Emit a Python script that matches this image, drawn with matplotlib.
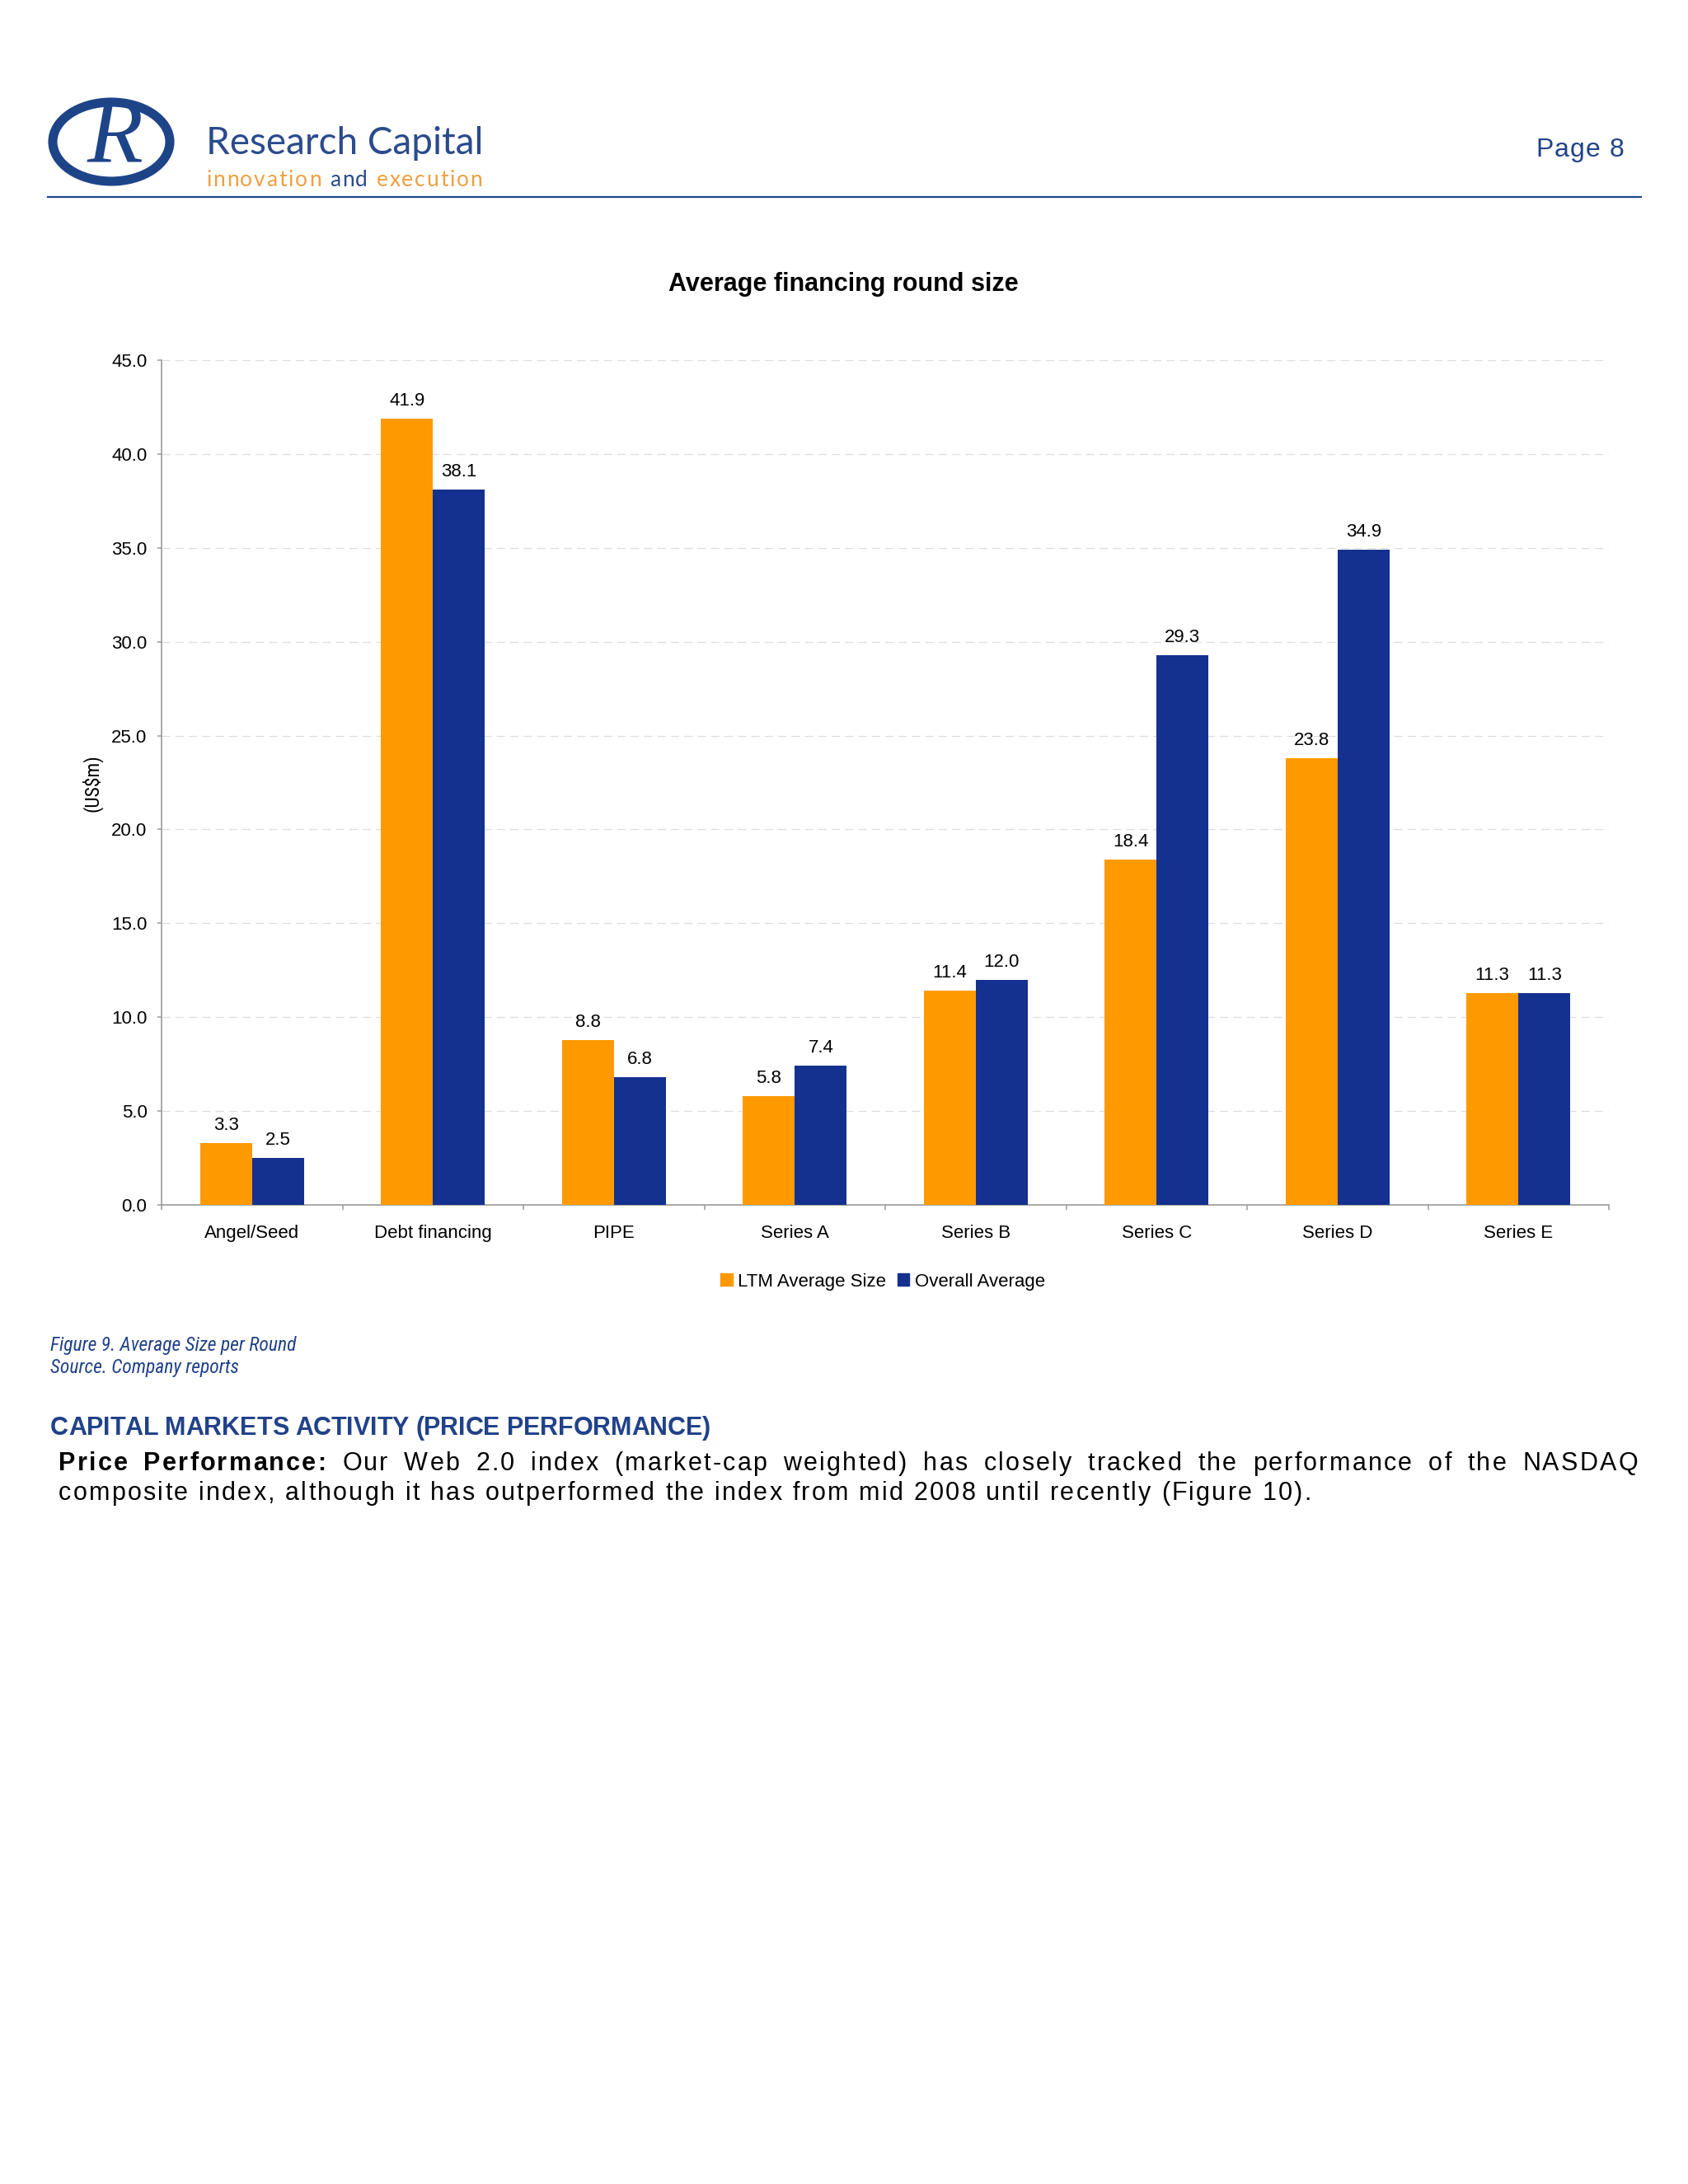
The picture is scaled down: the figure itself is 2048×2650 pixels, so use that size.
import matplotlib
matplotlib.use("Agg")
import matplotlib.pyplot as plt
from matplotlib.font_manager import FontProperties, findfont, fontManager
from matplotlib.ft2font import FT2Font
from matplotlib.patches import Ellipse, Patch
from matplotlib.lines import Line2D
import numpy as np

# ---------------- data ----------------
categories = ["Angel/Seed", "Debt financing", "PIPE", "Series A",
              "Series B", "Series C", "Series D", "Series E"]
ltm_avg = [3.3, 41.9, 8.8, 5.8, 11.4, 18.4, 23.8, 11.3]
overall_avg = [2.5, 38.1, 6.8, 7.4, 12.0, 29.3, 34.9, 11.3]
series_names = ["LTM Average Size", "Overall Average"]
y_ticks = [0, 5, 10, 15, 20, 25, 30, 35, 40, 45]

W, H = 2048, 2650
DPI = 100
ORANGE = "#FF9900"
NAVY = "#14318F"
TEXT_NAVY = "#21428A"
LOGO_NAVY = "#1E4488"
SANS = "Liberation Sans"

plt.rcParams['font.family'] = [SANS, 'DejaVu Sans']

fig = plt.figure(figsize=(W / DPI, H / DPI), dpi=DPI)
fig.patch.set_facecolor("white")

# look for a condensed / narrow face
NARROW = None
names = {f.name for f in fontManager.ttflist}
for cand in ['Liberation Sans Narrow', 'Roboto Condensed', 'Open Sans Condensed',
             'Noto Sans Condensed', 'DejaVu Sans Condensed']:
    if cand in names:
        NARROW = dict(family=[cand, SANS], stretch='normal')
        break
if NARROW is None:
    for f in fontManager.ttflist:
        if f.name == 'DejaVu Sans' and 'ondensed' in f.fname:
            NARROW = dict(family=['DejaVu Sans'], stretch='condensed')
            break
if NARROW is None:
    NARROW = dict(family=[SANS], stretch='normal')
    NARROW_SCALE = 0.84
else:
    NARROW_SCALE = 1.0


def fx(x):
    return x / W


def fy(y):
    return 1 - y / H


def advances(text, fp, size):
    try:
        f = FT2Font(findfont(fp))
        f.set_size(size, DPI)
        out = []
        for c in text:
            g = f.load_char(ord(c))
            out.append(g.linearHoriAdvance / 65536.0)
        return out
    except Exception:
        return [0.55 * size * DPI / 72.0 if c != ' ' else 0.28 * size * DPI / 72.0 for c in text]


def draw_runs(x0, y_base, runs, size, color, letter_sp=0.0, target=None,
              justify_words=False, align='left'):
    glyphs = []
    for text, kw in runs:
        fam = kw.get('family', [SANS])
        fp = FontProperties(family=fam, weight=kw.get('weight', 'normal'),
                            style=kw.get('style', 'normal'), size=size)
        adv = advances(text, fp, size)
        for c, a in zip(text, adv):
            glyphs.append((c, kw, a))
    n = len(glyphs)
    nat = sum(a for _, _, a in glyphs)
    nsp = sum(1 for c, _, _ in glyphs if c == ' ')
    extra_word = 0.0
    if target is not None:
        if justify_words:
            extra_word = (target - nat - letter_sp * (n - 1)) / max(nsp, 1)
        else:
            letter_sp = (target - nat) / max(n - 1, 1)
    total = nat + letter_sp * (n - 1) + extra_word * nsp
    if align == 'right':
        x0 = x0 - total
    elif align == 'center':
        x0 = x0 - total / 2
    x = x0
    for c, kw, a in glyphs:
        if c != ' ':
            fig.text(fx(x), fy(y_base), c, fontsize=size, color=kw.get('color', color),
                     ha='left', va='baseline',
                     family=kw.get('family', [SANS]),
                     weight=kw.get('weight', 'normal'),
                     style=kw.get('style', 'normal'))
        x += a + letter_sp + (extra_word if c == ' ' else 0.0)


# ---------------- header ----------------
fig.add_artist(Ellipse((fx(135), fy(172)), width=2 * 71 / W, height=2 * 48 / H,
                       transform=fig.transFigure, fill=False, lw=8, ec=LOGO_NAVY))
fig.text(fx(140), fy(170), "R", fontsize=80, family=['Liberation Serif', 'DejaVu Serif'],
         color=LOGO_NAVY, ha='center', va='center', style='italic')
fig.text(fx(250), fy(187), "Research Capital", fontsize=33, family=['Lato', SANS],
         weight='normal', color="#2A4B8D", ha='left', va='baseline')
lato = dict(family=['Lato', SANS], weight='normal')
draw_runs(250, 226, [("innovation ", dict(lato, color="#F0A040")),
                     ("and", dict(lato, color="#2A4B8D")),
                     (" execution", dict(lato, color="#F0A040"))],
          19, "#F0A040", target=335)
fig.add_artist(Line2D([fx(58), fx(1991)], [fy(239), fy(239)], transform=fig.transFigure,
                      color=LOGO_NAVY, lw=1.6))
draw_runs(1970, 190, [("Page 8", dict(family=[SANS]))], 23, TEXT_NAVY,
          letter_sp=1.0, align='right')

# ---------------- chart ----------------
ax = fig.add_axes([fx(196), fy(1462), (1952 - 196) / W, (1462 - 437) / H])
x = np.arange(len(categories))
bw = 0.2877
b1 = ax.bar(x - bw / 2, ltm_avg, width=bw, color=ORANGE, label=series_names[0], zorder=3)
b2 = ax.bar(x + bw / 2, overall_avg, width=bw, color=NAVY, label=series_names[1], zorder=3)
for bars, vals in ((b1, ltm_avg), (b2, overall_avg)):
    for r, v in zip(bars, vals):
        ax.annotate(f"{v:.1f}", (r.get_x() + r.get_width() / 2, v),
                    xytext=(0, 11.5), textcoords='offset points',
                    ha='center', va='baseline', fontsize=16, color='black')

ax.set_xlim(-0.5, len(categories) - 0.5)
ax.set_ylim(0, 45)
ax.set_yticks(y_ticks)
ax.set_yticklabels([f"{v:.1f}" for v in y_ticks])
ax.set_xticks(x)
ax.set_xticklabels(categories)
ax.set_xticks(np.arange(-0.5, len(categories)), minor=True)
ax.tick_params(axis='x', which='major', length=0, pad=17, labelsize=16)
ax.tick_params(axis='x', which='minor', length=4.5, width=1.1, color='#9A9A9A', direction='out')
ax.tick_params(axis='y', which='major', length=3.6, width=1.1, color='#9A9A9A', pad=9, labelsize=16)
for s in ('top', 'right'):
    ax.spines[s].set_visible(False)
for s in ('left', 'bottom'):
    ax.spines[s].set_color('#9A9A9A')
    ax.spines[s].set_linewidth(1.2)
ax.yaxis.grid(True, linestyle=(0, (8, 5)), color='#DDDDDD', lw=0.9, zorder=0)
ax.set_axisbelow(True)

fig.text(fx(1023), fy(353), "Average financing round size", fontsize=22, weight='bold',
         ha='center', va='baseline', color='black')
fig.text(fx(112), fy(950), "(US$m)", fontsize=17 * NARROW_SCALE, family=NARROW['family'],
         stretch=NARROW['stretch'], rotation=90, ha='center', va='center', color='black')

handles = [Patch(color=ORANGE), Patch(color=NAVY)]
fig.legend(handles, series_names, loc='center', bbox_to_anchor=(fx(1071), fy(1555)),
           ncol=2, frameon=False, fontsize=16, handlelength=0.65, handleheight=0.65,
           handletextpad=0.3, columnspacing=0.6)

# ---------------- caption & body ----------------
cap_size = 17 * NARROW_SCALE
fig.text(fx(61), fy(1639), "Figure 9. Average Size per Round", fontsize=cap_size,
         family=NARROW['family'], stretch=NARROW['stretch'], style='italic',
         color=TEXT_NAVY, ha='left', va='baseline')
fig.text(fx(61), fy(1666), "Source. Company reports", fontsize=cap_size,
         family=NARROW['family'], stretch=NARROW['stretch'], style='italic',
         color=TEXT_NAVY, ha='left', va='baseline')

draw_runs(61, 1741, [("CAPITAL MARKETS ACTIVITY (PRICE PERFORMANCE)", dict(weight='bold'))],
          22, TEXT_NAVY, target=801)

BODY = 22
line2 = "composite index, although it has outperformed the index from mid 2008 until recently (Figure 10)."
fp_reg = FontProperties(family=[SANS], size=BODY)
nat2 = sum(advances(line2, fp_reg, BODY))
ls = (1520 - nat2) / (len(line2) - 1)
draw_runs(71, 1784, [("Price Performance:", dict(weight='bold')),
                     (" Our Web 2.0 index (market-cap weighted) has closely tracked the performance of the NASDAQ", dict())],
          BODY, 'black', letter_sp=ls, target=1916, justify_words=True)
draw_runs(71, 1820, [(line2, dict())], BODY, 'black', letter_sp=ls)

fig.savefig("out.png", dpi=DPI, facecolor='white')
